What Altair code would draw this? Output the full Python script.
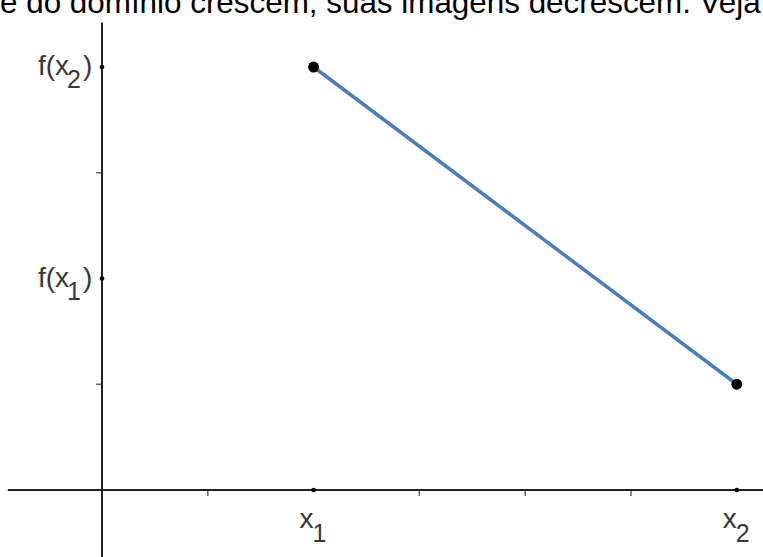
import altair as alt
import pandas as pd

# Segment of the decreasing function: (x1, f) -> (x2, f)
seg_x = [2, 6]
seg_y = [4, 1]

# Unit ticks on both axes; labelled positions carry a dot instead of a tick
x_plain_ticks = [1, 3, 4, 5]
y_plain_ticks = [1, 3]
x_label_ticks = [2, 6]
x_label_subs = ["1", "2"]
y_label_ticks = [4, 2]
y_label_subs = ["2", "1"]

caption = "e do domínio crescem, suas imagens decrescem. Veja"

FONT = "Liberation Sans"
INK = "#222222"
LABEL = "#383838"
LINE_BLUE = "#4a7ebb"

# Scale domains chosen so one unit is ~106 px and the origin sits at (102, 490)
X_DOM = [-0.9641, 6.2476]
Y_DOM = [-0.6336, 4.6336]
xs = alt.Scale(domain=X_DOM, nice=False, zero=False)
ys = alt.Scale(domain=Y_DOM, nice=False, zero=False)

X_AXIS_START = -0.89
Y_AXIS_TOP = 4.42


def X(field="x"):
    return alt.X(f"{field}:Q", scale=xs, axis=None)


def Y(field="y"):
    return alt.Y(f"{field}:Q", scale=ys, axis=None)


# Axis lines
x_axis = alt.Chart(pd.DataFrame({"x": [X_AXIS_START], "x2": [X_DOM[1]], "y": [0]})).mark_rule(
    color=INK, strokeWidth=2
).encode(x=X(), x2="x2:Q", y=Y())

y_axis = alt.Chart(pd.DataFrame({"x": [0], "y": [Y_DOM[0]], "y2": [Y_AXIS_TOP]})).mark_rule(
    color=INK, strokeWidth=2
).encode(x=X(), y=Y(), y2="y2:Q")

# Small ticks
x_ticks = alt.Chart(pd.DataFrame({"x": x_plain_ticks, "y": [0] * len(x_plain_ticks)})).mark_tick(
    orient="vertical", size=6, thickness=1.5, color=INK, yOffset=3
).encode(x=X(), y=Y())

y_ticks = alt.Chart(pd.DataFrame({"x": [0] * len(y_plain_ticks), "y": y_plain_ticks})).mark_tick(
    orient="horizontal", size=6, thickness=1.5, color=INK, xOffset=-3
).encode(x=X(), y=Y())

# Dots at the labelled positions
dots_df = pd.DataFrame({
    "x": x_label_ticks + [0] * len(y_label_ticks),
    "y": [0] * len(x_label_ticks) + y_label_ticks,
})
tick_dots = alt.Chart(dots_df).mark_circle(size=22, color="black", opacity=1).encode(x=X(), y=Y())

# The segment and its endpoints
seg_df = pd.DataFrame({"x": seg_x, "y": seg_y})
segment = alt.Chart(seg_df).mark_line(color=LINE_BLUE, strokeWidth=3.5).encode(x=X(), y=Y())
endpoints = alt.Chart(seg_df).mark_circle(size=120, color="black", opacity=1).encode(x=X(), y=Y())

# x labels: "x" with a lowered index
xl_df = pd.DataFrame({"x": x_label_ticks, "y": [0] * len(x_label_ticks), "sub": x_label_subs})
x_lab_main = alt.Chart(xl_df).mark_text(
    text="x", align="left", baseline="alphabetic", dx=-14, dy=38,
    fontSize=28, font=FONT, color=LABEL
).encode(x=X(), y=Y())
x_lab_sub = alt.Chart(xl_df).mark_text(
    align="left", baseline="alphabetic", dx=-1, dy=52,
    fontSize=25, font=FONT, color=LABEL
).encode(x=X(), y=Y(), text="sub:N")

# y labels: "f(x" + index + ")"
yl_df = pd.DataFrame({"x": [0] * len(y_label_ticks), "y": y_label_ticks, "sub": y_label_subs})
y_lab_main = alt.Chart(yl_df).mark_text(
    text="f(x", align="right", baseline="alphabetic", dx=-33, dy=8,
    fontSize=28, font=FONT, color=LABEL
).encode(x=X(), y=Y())
y_lab_sub = alt.Chart(yl_df).mark_text(
    align="left", baseline="alphabetic", dx=-35, dy=21,
    fontSize=25, font=FONT, color=LABEL
).encode(x=X(), y=Y(), text="sub:N")
y_lab_close = alt.Chart(yl_df).mark_text(
    text=")", align="left", baseline="alphabetic", dx=-19, dy=8,
    fontSize=28, font=FONT, color=LABEL
).encode(x=X(), y=Y())

# Running sentence above the figure (its upper part lies above the page edge)
caption_text = alt.Chart(pd.DataFrame({"t": [caption]})).mark_text(
    align="left", baseline="alphabetic", fontSize=31.4, font=FONT, color="black"
).encode(x=alt.value(0), y=alt.value(13), text="t:N")

chart = alt.layer(
    x_axis, y_axis, x_ticks, y_ticks, tick_dots,
    segment, endpoints,
    x_lab_main, x_lab_sub, y_lab_main, y_lab_sub, y_lab_close,
    caption_text,
).properties(
    width=763, height=557, padding=0, autosize=alt.AutoSizeParams(type="none"),
    background="white",
).configure_view(stroke=None)

chart.save("out.html", embed_options={"renderer": "svg", "actions": False})
